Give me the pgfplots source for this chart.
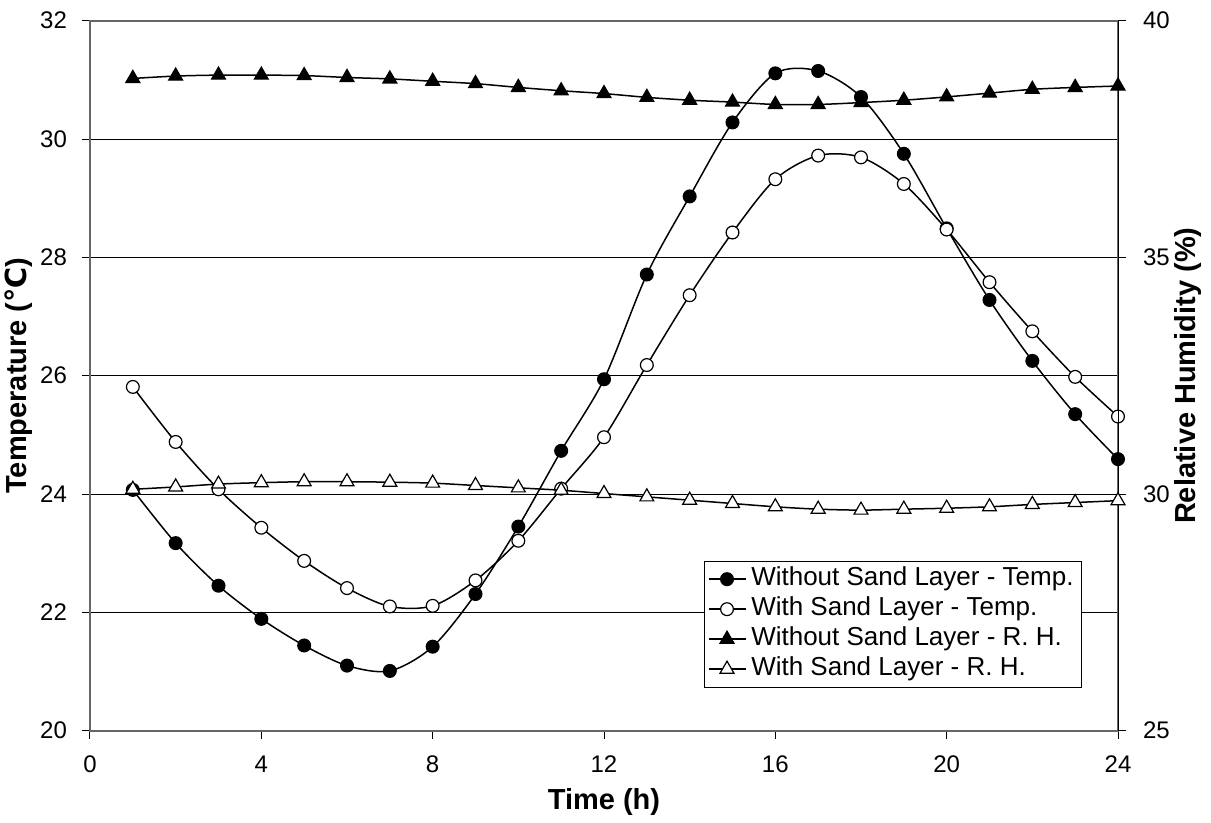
\documentclass[border=0pt]{standalone}
\usepackage{pgfplots}
\pgfplotsset{compat=1.18}
\usepackage{fontspec}
\setmainfont{Liberation Sans}
\newfontfamily\symfont{DejaVu Sans}

% hourly readings
\pgfplotstableread{
h  tno   twith  rhno   rhwith
1  24.07 25.81  38.78  30.10
2  23.17 24.88  38.83  30.15
3  22.45 24.08  38.85  30.21
4  21.89 23.43  38.85  30.24
5  21.44 22.87  38.84  30.26
6  21.10 22.41  38.80  30.26
7  21.01 22.10  38.77  30.25
8  21.42 22.11  38.72  30.23
9  22.31 22.54  38.67  30.18
10 23.45 23.21  38.59  30.13
11 24.73 24.09  38.52  30.08
12 25.94 24.96  38.46  30.01
13 27.71 26.18  38.38  29.94
14 29.03 27.36  38.32  29.87
15 30.28 28.42  38.28  29.80
16 31.11 29.32  38.23  29.73
17 31.15 29.72  38.23  29.68
18 30.71 29.69  38.27  29.66
19 29.75 29.24  38.32  29.68
20 28.49 28.47  38.39  29.70
21 27.28 27.58  38.47  29.73
22 26.25 26.75  38.55  29.78
23 25.35 25.98  38.59  29.82
24 24.59 25.31  38.62  29.86
}\datatab

\pgfplotsset{
  base/.style={
    width=514pt, height=355pt, scale only axis,
    xmin=0, xmax=24,
    tick align=outside, major tick length=4pt,
    tick style={black, line width=0.5pt},
    ticklabel style={font=\fontsize{12}{14}\selectfont},
    /pgf/number format/assume math mode=true,
    label style={font=\bfseries\fontsize{14.5}{17}\selectfont},
  },
  tno/.style={black, line width=0.75pt, smooth, mark=*, mark size=3.2pt,
    mark options={solid, fill=black, line width=0.6pt}},
  twith/.style={black, line width=0.75pt, smooth, mark=*, mark size=3.2pt,
    mark options={solid, fill=white, line width=0.6pt}},
  rhno/.style={black, line width=0.75pt, smooth, mark=triangle*, mark size=4pt,
    mark options={solid, fill=black, line width=0.6pt}},
  rhwith/.style={black, line width=0.75pt, smooth, mark=triangle*, mark size=4pt,
    mark options={solid, fill=white, line width=0.6pt}},
}

\begin{document}
\begin{tikzpicture}
\begin{axis}[base,
    ymin=20, ymax=32,
    xtick={0,4,...,24}, ytick={20,22,...,32},
    xtick pos=bottom, ytick pos=left,
    xticklabel style={yshift=-5pt},
    yticklabel style={xshift=-4pt},
    ymajorgrids, grid style={black, line width=0.5pt},
    axis line style={draw=black!60, line width=1pt},
    xlabel={Time (h)},
    ylabel={Temperature ({\symfont\bfseries\symbol{"2103}})},
    xlabel style={at={(axis description cs:0.5,-0.1)}, anchor=center},
    ylabel style={at={(axis description cs:-0.069,0.5)}, anchor=center, rotate=0},
]
\addplot[tno] table[x=h, y=tno] {\datatab};
\addplot[twith] table[x=h, y=twith] {\datatab};
\end{axis}

\begin{axis}[base,
    ymin=25, ymax=40, ytick={25,30,35,40},
    axis x line=none, axis y line*=right,
    y axis line style={draw=black, line width=0.5pt},
    yticklabel style={xshift=5pt},
    ylabel={Relative Humidity (\%)},
    ylabel style={at={(axis description cs:1.068,0.5)}, anchor=center, rotate=0},
    legend style={at={(0.965,0.0606)}, anchor=south east,
      draw=black, line width=0.5pt, fill=white, inner sep=1.5pt,
      font=\fontsize{13}{15}\selectfont,
      nodes={text height=9.5pt, text depth=3pt, inner ysep=1.25pt, inner xsep=2.5pt}},
    legend cell align=left,
    legend image code/.code={\draw[mark repeat=2, mark phase=2, #1]
      plot coordinates {(0pt,0pt) (9.25pt,0pt) (18.5pt,0pt)};},
]
\addlegendimage{tno}
\addlegendentry{Without Sand Layer - Temp.}
\addlegendimage{twith}
\addlegendentry{With Sand Layer - Temp.}
\addplot[rhno] table[x=h, y=rhno] {\datatab};
\addlegendentry{Without Sand Layer - R. H.}
\addplot[rhwith] table[x=h, y=rhwith] {\datatab};
\addlegendentry{With Sand Layer - R. H.}
\end{axis}

\pgfresetboundingbox
\path (-45pt,-46.15pt) rectangle (560.5pt,365.35pt);
\end{tikzpicture}
\end{document}
